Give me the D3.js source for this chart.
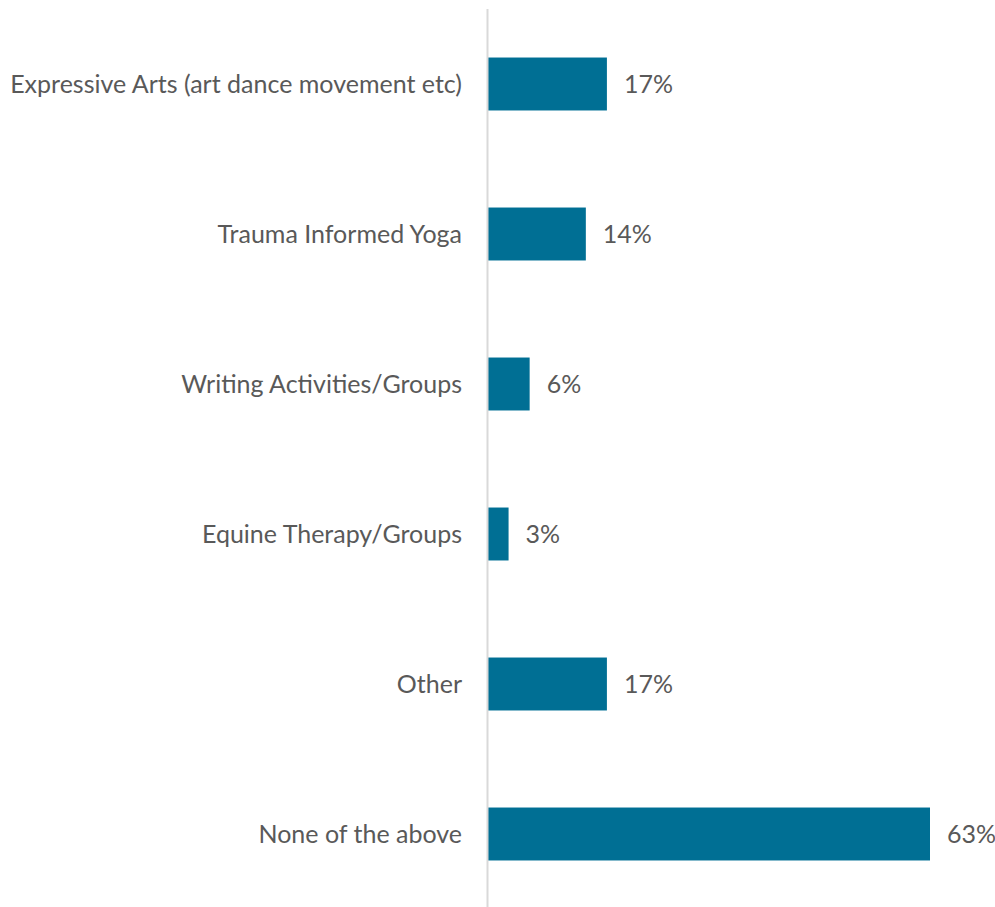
<!DOCTYPE html>
<html>
<head>
<meta charset="utf-8">
<script src="https://cdn.jsdelivr.net/npm/d3@7"></script>
<style>
  html, body { margin: 0; padding: 0; background: #ffffff; }
  svg { display: block; }
</style>
</head>
<body>
<svg id="chart" width="995" height="907"></svg>
<script>
// Share of respondents by activity type
const categories = [
  "Expressive Arts (art dance movement etc)",
  "Trauma Informed Yoga",
  "Writing Activities/Groups",
  "Equine Therapy/Groups",
  "Other",
  "None of the above"
];
const values = [17, 14, 6, 3, 17, 63];

const width = 995, height = 907;
const axisX = 487.5;
const svg = d3.select("#chart");

const x = d3.scaleLinear().domain([0, 63]).range([axisX, 930]);
const y = d3.scaleBand().domain(categories).range([9, 909])
  .paddingInner(0.647).paddingOuter(0.3235);

const font = "Lato, 'Open Sans', sans-serif";
const textColor = "#595959";

// Bars
svg.append("g").selectAll("rect")
  .data(categories)
  .join("rect")
  .attr("x", axisX)
  .attr("y", d => y(d))
  .attr("width", (d, i) => x(values[i]) - axisX)
  .attr("height", y.bandwidth())
  .attr("fill", "#006f94");

// Vertical category axis line
svg.append("line")
  .attr("x1", axisX).attr("x2", axisX)
  .attr("y1", 9).attr("y2", 907)
  .attr("stroke", "#d9d9d9").attr("stroke-width", 2);

// Category labels
svg.append("g").selectAll("text")
  .data(categories)
  .join("text")
  .attr("x", 462)
  .attr("y", d => y(d) + y.bandwidth() / 2)
  .attr("dy", "0.35em")
  .attr("text-anchor", "end")
  .attr("font-family", font)
  .attr("font-size", 25)
  .attr("fill", textColor)
  .text(d => d);

// Value labels
svg.append("g").selectAll("text")
  .data(categories)
  .join("text")
  .attr("x", (d, i) => x(values[i]) + 17)
  .attr("y", d => y(d) + y.bandwidth() / 2)
  .attr("dy", "0.35em")
  .attr("font-family", font)
  .attr("font-size", 25)
  .attr("fill", textColor)
  .text((d, i) => values[i] + "%");
</script>
</body>
</html>
